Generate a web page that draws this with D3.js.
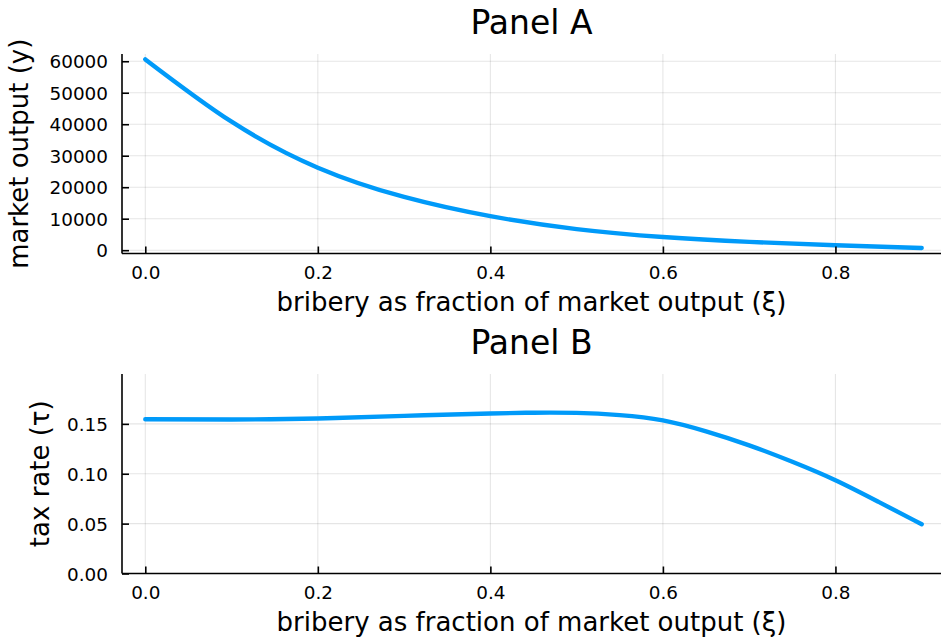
<!DOCTYPE html>
<html>
<head>
<meta charset="utf-8">
<script src="https://cdn.jsdelivr.net/npm/d3@7"></script>
<style>
  html, body { margin: 0; padding: 0; background: #fff; }
  svg { display: block; font-family: "DejaVu Sans", sans-serif; }
</style>
</head>
<body>
<svg id="chart" width="941" height="643"></svg>
<script>
// Bribery share ξ sampled along the horizontal axis
const xiA = [0.0, 0.1, 0.2, 0.3, 0.4, 0.5, 0.6, 0.7, 0.8, 0.9];
// Panel A: market output y at each ξ
const outputY = [60600, 40800, 26200, 16900, 10800, 6700, 4200, 2650, 1550, 700];

const xiB = [0.0, 0.1, 0.2, 0.3, 0.4, 0.45, 0.5, 0.55, 0.6, 0.65, 0.7, 0.75, 0.8, 0.85, 0.9];
// Panel B: tax rate τ at each ξ
const taxRate = [0.1547, 0.1544, 0.1554, 0.1580, 0.1604, 0.1612, 0.1610, 0.1588, 0.1535,
                 0.1425, 0.1285, 0.1120, 0.0935, 0.0718, 0.0494];

const xTicks = [0.0, 0.2, 0.4, 0.6, 0.8];
const yTicksA = [0, 10000, 20000, 30000, 40000, 50000, 60000];
const yTicksB = [0.00, 0.05, 0.10, 0.15];

const titles = ["Panel A", "Panel B"];
const xLabel = "bribery as fraction of market output (ξ)";
const yLabels = ["market output (y)", "tax rate (τ)"];

const W = 941;
const svg = d3.select("#chart");
const lineColor = "#009af9";

const x = d3.scaleLinear().domain([-0.027, 0.927]).range([122, 945]);

const panels = [
  { top: 54, bottom: 253.5, yDomain: [-1050, 62300], ticks: yTicksA, fmt: d3.format("d"),
    xs: xiA, ys: outputY, title: titles[0], titleY: 34, ylab: yLabels[0], ylabX: 28,
    tickLabY: 279, xlabY: 311 },
  { top: 374, bottom: 573.5, yDomain: [0, 0.2], ticks: yTicksB, fmt: d3.format(".2f"),
    xs: xiB, ys: taxRate, title: titles[1], titleY: 354, ylab: yLabels[1], ylabX: 49,
    tickLabY: 599, xlabY: 631 }
];

const left = 122;
const cx = (122 + 941) / 2;

panels.forEach(p => {
  const y = d3.scaleLinear().domain(p.yDomain).range([p.bottom, p.top]);
  const g = svg.append("g");

  // grid
  g.selectAll(".vg").data(xTicks).join("line")
    .attr("x1", d => x(d)).attr("x2", d => x(d))
    .attr("y1", p.top).attr("y2", p.bottom)
    .attr("stroke", "#000").attr("stroke-opacity", 0.1).attr("stroke-width", 1.1);
  g.selectAll(".hg").data(p.ticks).join("line")
    .attr("x1", left).attr("x2", W)
    .attr("y1", d => y(d)).attr("y2", d => y(d))
    .attr("stroke", "#000").attr("stroke-opacity", 0.1).attr("stroke-width", 1.1);

  // data line
  const line = d3.line().x((d, i) => x(p.xs[i])).y(d => y(d)).curve(d3.curveNatural);
  g.append("path").datum(p.ys)
    .attr("d", line)
    .attr("fill", "none").attr("stroke", lineColor)
    .attr("stroke-width", 4.4).attr("stroke-linecap", "round").attr("stroke-linejoin", "round");

  // axes with inward ticks
  const xAxis = d3.axisBottom(x).tickValues(xTicks).tickFormat(d3.format(".1f"))
    .tickSizeInner(-7).tickSizeOuter(0).tickPadding(16);
  const xg = g.append("g").attr("transform", `translate(0,${p.bottom})`).call(xAxis);
  xg.select(".domain").attr("d", `M${left},0H${W}`).attr("stroke-width", 1.6);
  xg.selectAll(".tick line").attr("stroke-width", 1.6);
  xg.selectAll(".tick text").attr("y", null).attr("dy", null)
    .attr("transform", `translate(0,${p.tickLabY - p.bottom})`)
    .attr("font-size", 18.4).attr("font-family", "DejaVu Sans").attr("fill", "#000");

  const yAxis = d3.axisLeft(y).tickValues(p.ticks).tickFormat(p.fmt)
    .tickSizeInner(-7).tickSizeOuter(0).tickPadding(14);
  const yg = g.append("g").attr("transform", `translate(${left},0)`).call(yAxis);
  yg.select(".domain").attr("d", `M0,${p.top}V${p.bottom}`).attr("stroke-width", 1.6);
  yg.selectAll(".tick line").attr("stroke-width", 1.6);
  yg.selectAll(".tick text").attr("x", -14).attr("dy", "0.36em")
    .attr("font-size", 18.4).attr("font-family", "DejaVu Sans").attr("fill", "#000");

  // title and axis labels
  g.append("text").attr("x", cx).attr("y", p.titleY).attr("text-anchor", "middle")
    .attr("font-size", 33).text(p.title);
  g.append("text").attr("x", cx).attr("y", p.xlabY).attr("text-anchor", "middle")
    .attr("font-size", 26).text(xLabel);
  g.append("text")
    .attr("transform", `translate(${p.ylabX},${(p.top + p.bottom) / 2}) rotate(-90)`)
    .attr("text-anchor", "middle").attr("font-size", 26).text(p.ylab);
});
</script>
</body>
</html>
